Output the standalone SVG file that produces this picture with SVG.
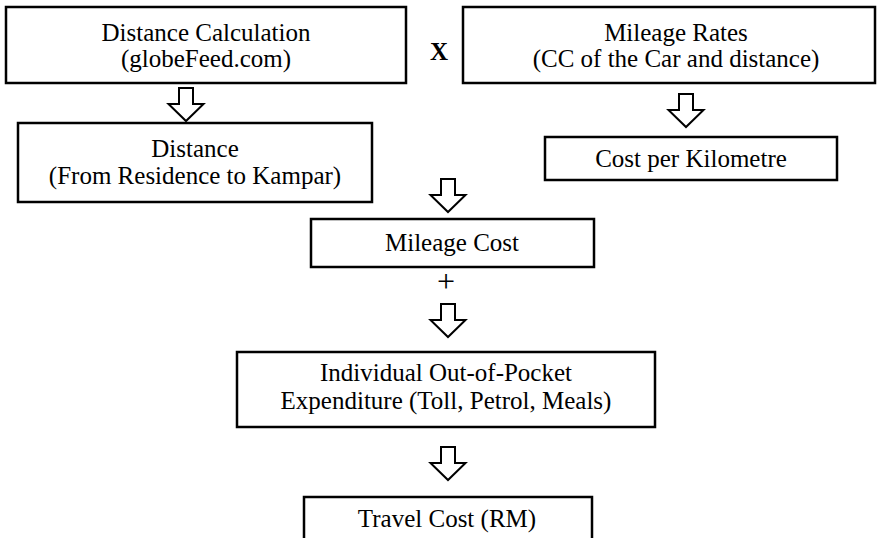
<svg xmlns="http://www.w3.org/2000/svg" width="877" height="538" viewBox="0 0 877 538">
<style>
.box{fill:#fff;stroke:#000;stroke-width:2.5}
.t{font-family:"Liberation Serif","Times New Roman",serif;font-size:25px;fill:#000;text-anchor:middle}
.op{font-family:"Liberation Serif","Times New Roman",serif;fill:#000;text-anchor:middle}
.arr{fill:#fff;stroke:#000;stroke-width:2;stroke-linejoin:miter}
</style>
<defs>
<path id="ba" class="arr" d="M-7,0 H7 V16 H17.5 L0,33 L-17.5,16 H-7 Z"/>
</defs>
<rect width="877" height="538" fill="#fff"/>
<g id="connectors">
<use href="#ba" x="186" y="88"/>
<use href="#ba" x="686" y="94"/>
<use href="#ba" x="448" y="179"/>
<use href="#ba" x="448" y="304"/>
<use href="#ba" x="448" y="447"/>
<text class="op" x="439" y="60" font-size="25" font-weight="bold">X</text>
<text class="op" x="446" y="292" font-size="32">+</text>
</g>
<g id="distance-calculation">
<rect class="box" x="6" y="7" width="400" height="76"/>
<text class="t" x="206" y="41">Distance Calculation</text>
<text class="t" x="206" y="67">(globeFeed.com)</text>
</g>
<g id="mileage-rates">
<rect class="box" x="463" y="7" width="412" height="76"/>
<text class="t" x="676" y="41">Mileage Rates</text>
<text class="t" x="676" y="67">(CC of the Car and distance)</text>
</g>
<g id="distance">
<rect class="box" x="18" y="123" width="354" height="79"/>
<text class="t" x="195" y="157">Distance</text>
<text class="t" x="195" y="184">(From Residence to Kampar)</text>
</g>
<g id="cost-per-km">
<rect class="box" x="545" y="137" width="292" height="43"/>
<text class="t" x="691" y="167">Cost per Kilometre</text>
</g>
<g id="mileage-cost">
<rect class="box" x="311" y="219" width="283" height="48"/>
<text class="t" x="452" y="251">Mileage Cost</text>
</g>
<g id="out-of-pocket">
<rect class="box" x="237" y="352" width="418" height="75"/>
<text class="t" x="446" y="381">Individual Out-of-Pocket</text>
<text class="t" x="446" y="409">Expenditure (Toll, Petrol, Meals)</text>
</g>
<g id="travel-cost">
<rect class="box" x="304" y="497" width="288" height="50"/>
<text class="t" x="447" y="527">Travel Cost (RM)</text>
</g>
</svg>
